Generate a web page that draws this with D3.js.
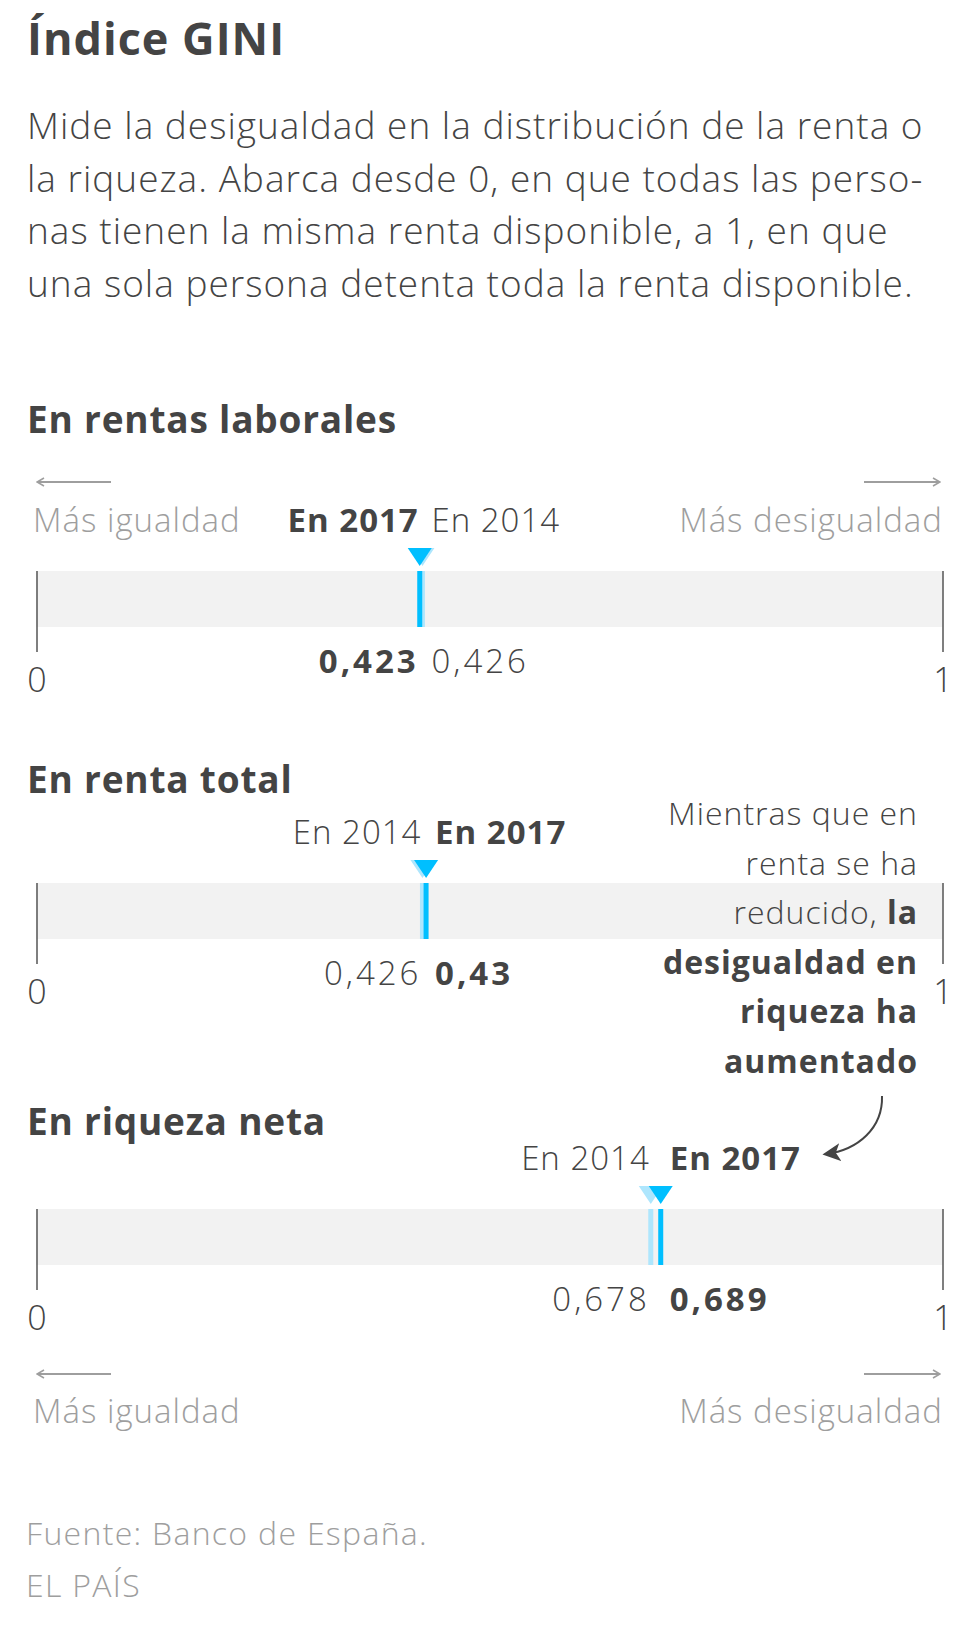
<!DOCTYPE html>
<html>
<head>
<meta charset="utf-8">
<script src="https://cdn.jsdelivr.net/npm/d3@7"></script>
<style>
  html, body { margin: 0; padding: 0; background: #fff; }
  svg { display: block; font-family: "Open Sans", Lato, sans-serif; }
  .light { font-weight: 300; }
  .bold { font-weight: 700; }
</style>
</head>
<body>
<div id="chart"></div>
<script>
const width = 980;
const height = 1644;

// data
const panels = ["En rentas laborales", "En renta total", "En riqueza neta"];
const gini2014 = [0.426, 0.426, 0.678];
const gini2017 = [0.423, 0.43, 0.689];
const years = ["En 2014", "En 2017"];
const subtitleLines = [
  "Mide la desigualdad en la distribución de la renta o",
  "la riqueza. Abarca desde 0, en que todas las perso-",
  "nas tienen la misma renta disponible, a 1, en que",
  "una sola persona detenta toda la renta disponible.",
];
const noteLines = [
  [["Mientras que en", false]],
  [["renta se ha", false]],
  [["reducido, ", false], ["la", true]],
  [["desigualdad en", true]],
  [["riqueza ha", true]],
  [["aumentado", true]],
];

const dark = "#444";
const grey = "#9e9e9e";
const blue = "#00bfff";
const lightBlue = "#aee6fd";

const fmt = d3.formatLocale({ decimal: ",", thousands: ".", grouping: [3], currency: ["", " €"] }).format(".3~f");

const x = d3.scaleLinear().domain([0, 1]).range([36.5, 942.5]);

const svg = d3.select("#chart")
  .append("svg")
  .attr("width", width)
  .attr("height", height)
  .attr("viewBox", `0 0 ${width} ${height}`);

// header
svg.append("text")
  .attr("x", 27).attr("y", 55)
  .attr("class", "bold")
  .attr("font-size", 45)
  .attr("letter-spacing", 1)
  .attr("fill", dark)
  .text("Índice GINI");

svg.append("g")
  .selectAll("text")
  .data(subtitleLines)
  .join("text")
  .attr("class", "light")
  .attr("x", 27)
  .attr("y", (d, i) => 139 + i * 52.7)
  .attr("font-size", 37)
  .attr("letter-spacing", 1)
  .attr("fill", dark)
  .text((d) => d);

// arrow markers
const defs = svg.append("defs");
defs.append("marker")
  .attr("id", "chev")
  .attr("viewBox", "0 0 10 10")
  .attr("refX", 9).attr("refY", 5)
  .attr("markerWidth", 5).attr("markerHeight", 5)
  .attr("markerUnits", "strokeWidth")
  .attr("orient", "auto-start-reverse")
  .append("path")
  .attr("d", "M2,1 L9,5 L2,9")
  .attr("fill", "none")
  .attr("stroke", grey)
  .attr("stroke-width", 1.6);

defs.append("marker")
  .attr("id", "head")
  .attr("viewBox", "0 0 10 10")
  .attr("refX", 8).attr("refY", 5)
  .attr("markerWidth", 9).attr("markerHeight", 9)
  .attr("markerUnits", "strokeWidth")
  .attr("orient", "auto")
  .append("path")
  .attr("d", "M10,5 L0,0 L2.5,5 L0,10 Z")
  .attr("fill", dark);

function directionRow(yArrow, yText) {
  const g = svg.append("g");
  g.append("line")
    .attr("x1", 111).attr("x2", 37)
    .attr("y1", yArrow).attr("y2", yArrow)
    .attr("stroke", grey).attr("stroke-width", 2)
    .attr("marker-end", "url(#chev)");
  g.append("line")
    .attr("x1", 864).attr("x2", 940)
    .attr("y1", yArrow).attr("y2", yArrow)
    .attr("stroke", grey).attr("stroke-width", 2)
    .attr("marker-end", "url(#chev)");
  g.append("text")
    .attr("class", "light")
    .attr("x", 33).attr("y", yText)
    .attr("font-size", 33)
    .attr("letter-spacing", 1)
    .attr("fill", grey)
    .text("Más igualdad");
  g.append("text")
    .attr("class", "light")
    .attr("x", 943).attr("y", yText)
    .attr("text-anchor", "end")
    .attr("font-size", 33)
    .attr("letter-spacing", 1)
    .attr("fill", grey)
    .text("Más desigualdad");
}

directionRow(482, 532);

// panels
const barTops = [571, 883, 1209];
const headingY = [433, 793, 1135];
const barH = 56;

panels.forEach((name, i) => {
  const top = barTops[i];
  const g = svg.append("g");

  g.append("text")
    .attr("class", "bold")
    .attr("x", 27).attr("y", headingY[i])
    .attr("font-size", 37)
    .attr("letter-spacing", 0.8)
    .attr("fill", dark)
    .text(name);

  g.append("rect")
    .attr("x", x(0)).attr("y", top)
    .attr("width", x(1) - x(0)).attr("height", barH)
    .attr("fill", "#f2f2f2");

  const axis = d3.axisBottom(x).tickValues([0, 1]).tickSize(81).tickFormat(d3.format("d"));
  const ax = g.append("g")
    .attr("transform", `translate(0,${top})`)
    .call(axis);
  ax.select(".domain").remove();
  ax.selectAll(".tick line").attr("stroke", "#555").attr("stroke-width", 1.5);
  ax.selectAll(".tick text")
    .attr("class", "light")
    .attr("y", 121).attr("dy", 0)
    .attr("font-size", 34)
    .attr("font-family", "'Open Sans', Lato, sans-serif")
    .attr("fill", dark);

  const pts = [
    { year: 0, v: gini2014[i], color: lightBlue },
    { year: 1, v: gini2017[i], color: blue },
  ];

  g.selectAll(".mark")
    .data(pts)
    .join("rect")
    .attr("class", "mark")
    .attr("x", (d) => x(d.v) - 2.5)
    .attr("y", top)
    .attr("width", 5)
    .attr("height", barH)
    .attr("fill", (d) => d.color);

  g.selectAll(".tri")
    .data(pts)
    .join("path")
    .attr("class", "tri")
    .attr("d", (d) => `M${x(d.v) - 12},${top - 23} L${x(d.v) + 12},${top - 23} L${x(d.v)},${top - 5} Z`)
    .attr("fill", (d) => d.color);

  // lower value labelled on the left, higher on the right
  const sorted = pts.slice().sort((a, b) => a.v - b.v);
  const lo = sorted[0];
  const hi = sorted[1];
  const side = [
    { d: lo, xPos: x(lo.v) - 1, anchor: "end" },
    { d: hi, xPos: x(hi.v) + 9, anchor: "start" },
  ];

  g.selectAll(".year")
    .data(side)
    .join("text")
    .attr("class", (s) => (s.d.year === 1 ? "bold" : "light"))
    .attr("x", (s) => s.xPos)
    .attr("y", top - 39)
    .attr("text-anchor", (s) => s.anchor)
    .attr("font-size", 33)
    .attr("letter-spacing", 1)
    .attr("fill", dark)
    .text((s) => years[s.d.year]);

  g.selectAll(".val")
    .data(side)
    .join("text")
    .attr("class", (s) => (s.d.year === 1 ? "bold" : "light"))
    .attr("x", (s) => s.xPos)
    .attr("y", top + barH + 46)
    .attr("text-anchor", (s) => s.anchor)
    .attr("font-size", 33)
    .attr("letter-spacing", 3)
    .attr("fill", dark)
    .text((s) => fmt(s.d.v));
});

// annotation
const note = svg.append("text")
  .attr("text-anchor", "end")
  .attr("font-size", 32)
  .attr("letter-spacing", 1)
  .attr("fill", dark);

noteLines.forEach((parts, i) => {
  parts.forEach((p, j) => {
    const t = note.append("tspan")
      .attr("class", p[1] ? "bold" : "light")
      .text(p[0]);
    if (j === 0) t.attr("x", 918).attr("y", 825 + i * 49.6);
  });
});

svg.append("path")
  .attr("d", "M882,1096 C883,1128 858,1150 826,1154")
  .attr("fill", "none")
  .attr("stroke", dark)
  .attr("stroke-width", 2)
  .attr("marker-end", "url(#head)");

directionRow(1374, 1423);

// footer
svg.append("g")
  .selectAll("text")
  .data(["Fuente: Banco de España.", "EL PAÍS"])
  .join("text")
  .attr("class", "light")
  .attr("x", 26)
  .attr("y", (d, i) => 1545 + i * 52)
  .attr("font-size", 32)
  .attr("letter-spacing", 1.3)
  .attr("fill", grey)
  .text((d) => d);
</script>
</body>
</html>
